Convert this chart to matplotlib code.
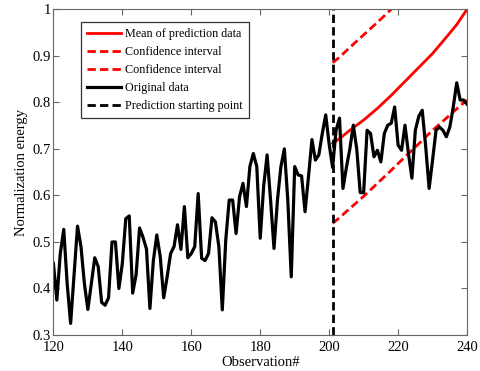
import numpy as np
import matplotlib.pyplot as plt

plt.rcParams['font.family'] = 'serif'
plt.rcParams['font.serif'] = ['Liberation Serif', 'DejaVu Serif']

# original observations 120..240
obs = np.arange(120, 241)
energy = [0.454, 0.375, 0.475, 0.527, 0.41, 0.325, 0.43, 0.534, 0.49, 0.41,
          0.355, 0.41, 0.466, 0.447, 0.37, 0.364, 0.38, 0.50, 0.50, 0.40,
          0.454, 0.55, 0.556, 0.39, 0.43, 0.53, 0.51, 0.485, 0.357, 0.46,
          0.515, 0.468, 0.38, 0.425, 0.475, 0.49, 0.537, 0.484, 0.576, 0.466,
          0.475, 0.49, 0.604, 0.465, 0.46, 0.475, 0.552, 0.543, 0.49, 0.354,
          0.504, 0.59, 0.59, 0.518, 0.597, 0.626, 0.576, 0.662, 0.69, 0.662,
          0.508, 0.62, 0.687, 0.59, 0.486, 0.59, 0.662, 0.70, 0.59, 0.425,
          0.662, 0.644, 0.642, 0.565, 0.64, 0.72, 0.676, 0.687, 0.733, 0.773,
          0.71, 0.66, 0.74, 0.766, 0.615, 0.66, 0.70, 0.751, 0.70, 0.606,
          0.606, 0.74, 0.733, 0.683, 0.697, 0.672, 0.733, 0.751, 0.755, 0.79,
          0.708, 0.697, 0.751, 0.69, 0.637, 0.74, 0.77, 0.783, 0.705, 0.615,
          0.676, 0.74, 0.747, 0.74, 0.726, 0.747, 0.79, 0.842, 0.805, 0.805,
          0.796]

# prediction curves
pred_x = [201, 203, 206, 210, 214, 218, 222, 226, 230, 234, 237, 240]
pred_mean = [0.712, 0.722, 0.74, 0.762, 0.787, 0.815, 0.845, 0.875, 0.905, 0.94, 0.967, 1.0]
lower_ci = [0.54, 0.552, 0.572, 0.598, 0.626, 0.654, 0.683, 0.711, 0.74, 0.766, 0.786, 0.805]
upper_x = [201, 203, 206, 210, 214, 218]
upper_ci = [0.885, 0.897, 0.918, 0.945, 0.972, 1.0]
start_point = 201

fig = plt.figure(figsize=(4.81, 3.71), dpi=100)
ax = fig.add_axes([0.111, 0.097, 0.86, 0.878])

ax.plot(pred_x, pred_mean, color='red', lw=2, label='Mean of prediction data')
ax.plot(upper_x, upper_ci, color='red', lw=2, ls='--', dashes=(3, 1.5), label='Confidence interval')
ax.plot(pred_x, lower_ci, color='red', lw=2, ls='--', dashes=(3, 1.5), label='Confidence interval')
ax.plot(obs, energy, color='black', lw=2.3, label='Original data')
ax.axvline(start_point, color='black', lw=2, ls='--', dashes=(3, 1.5), label='Prediction starting point')

ax.set_xlim(120, 240)
ax.set_ylim(0.3, 1.0)
ax.set_xticks(np.arange(120, 241, 20))
ax.set_yticks(np.arange(0.3, 1.01, 0.1))
ax.set_yticklabels(['0.3', '0.4', '0.5', '0.6', '0.7', '0.8', '0.9', '1'])
ax.tick_params(direction='in', top=True, right=True, labelsize=10.5, length=4,
               color='#666666')
ax.tick_params(axis='x', pad=4)
ax.tick_params(axis='y', pad=2)
for s in ax.spines.values():
    s.set_color('#666666')

ax.set_xlabel('Observation#', fontsize=10.5, labelpad=2)
ax.set_ylabel('Normalization energy', fontsize=10.5, labelpad=3)

leg = ax.legend(loc='upper left', bbox_to_anchor=(0.067, 0.961), fontsize=8.7,
                fancybox=False, framealpha=1, edgecolor='#333333',
                handlelength=2.8, handletextpad=0.35, labelspacing=0.5,
                borderpad=0.5, borderaxespad=0)
leg.get_frame().set_linewidth(0.9)

fig.savefig('out.png', dpi=100)
